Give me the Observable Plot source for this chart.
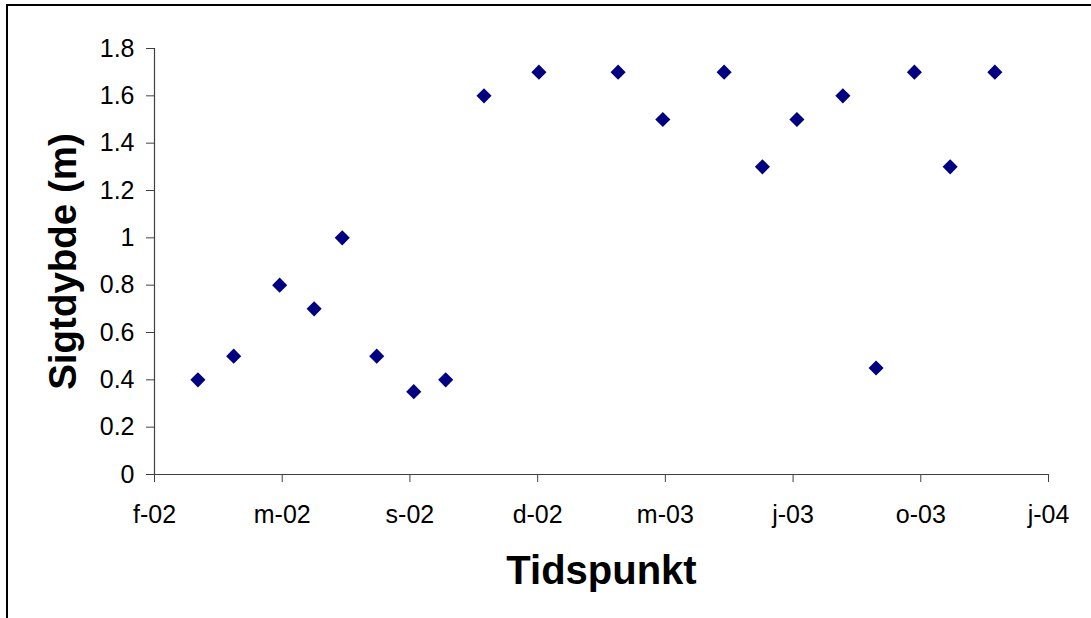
<!DOCTYPE html>
<html><head><meta charset="utf-8">
<script src="https://cdn.jsdelivr.net/npm/d3@7"></script>
<script src="https://cdn.jsdelivr.net/npm/@observablehq/plot@0.6"></script>
<style>
html,body{margin:0;padding:0;background:#fff;overflow:hidden;width:1091px;height:618px;}
#frame{position:absolute;left:6px;top:4px;width:1200px;height:800px;border:2px solid #000;box-sizing:border-box;}
#chart{position:absolute;left:0;top:0;}
</style></head><body><div id="frame"></div><div id="chart"></div>
<script>
// Observation dates and Secchi depth (m)
const dates = ["2002-03-19","2002-04-16","2002-05-22","2002-06-18","2002-07-10","2002-08-06","2002-09-04","2002-09-29","2002-10-29","2002-12-11",
               "2003-02-11","2003-03-18","2003-05-05","2003-06-04","2003-07-01","2003-08-06","2003-09-01","2003-10-01","2003-10-29","2003-12-03"];
const depths = [0.4,0.5,0.8,0.7,1.0,0.5,0.35,0.4,1.6,1.7,
                1.7,1.5,1.7,1.3,1.5,1.6,0.45,1.7,1.3,1.7];
const xTickDates = ["2002-02-13","2002-05-24","2002-09-01","2002-12-10","2003-03-20","2003-06-28","2003-10-06","2004-01-14"];
const xTickLabels = ["f-02","m-02","s-02","d-02","m-03","j-03","o-03","j-04"];
const yTicks = [0,0.2,0.4,0.6,0.8,1,1.2,1.4,1.6,1.8];
const yTickLabels = ["0","0.2","0.4","0.6","0.8","1","1.2","1.4","1.6","1.8"];
const xTitle = "Tidspunkt";
const yTitle = "Sigtdybde (m)";

const data = dates.map((d, i) => ({date: new Date(d), depth: depths[i]}));
const xTicks = xTickDates.map(d => new Date(d));
const xLabelMap = new Map(xTicks.map((d, i) => [+d, xTickLabels[i]]));
const yLabelMap = new Map(yTicks.map((v, i) => [v, yTickLabels[i]]));

const font = "'Liberation Sans', Arial, sans-serif";
const axisColor = "#404040";

const chart = Plot.plot({
  width: 1091,
  height: 618,
  marginLeft: 154,
  marginRight: 43,
  marginTop: 48,
  marginBottom: 144,
  style: {fontFamily: font, fontSize: "25px", color: "#000", background: "transparent", overflow: "visible"},
  x: {type: "utc", domain: [xTicks[0], xTicks[xTicks.length - 1]]},
  y: {domain: [0, 1.8]},
  marks: [
    Plot.axisX(xTicks, {tickSize: 8, tickPadding: 23, tickFormat: d => xLabelMap.get(+d), fontSize: 25, stroke: axisColor, fill: "#000", label: null}),
    Plot.axisY(yTicks, {tickSize: 8, tickPadding: 12, tickFormat: v => yLabelMap.get(v), fontSize: 25, stroke: axisColor, fill: "#000", label: null}),
    Plot.ruleY([0], {stroke: axisColor, strokeWidth: 1.2}),
    Plot.ruleX([xTicks[0]], {stroke: axisColor, strokeWidth: 1.2}),
    Plot.dot(data, {x: "date", y: "depth", symbol: "diamond2", r: 6.8, fill: "#000080", stroke: "none"}),
    Plot.text([xTitle], {frameAnchor: "bottom", dy: 97, text: d => d, fontSize: 40, fontWeight: "bold", fill: "#000", textAnchor: "middle", lineAnchor: "middle"}),
    Plot.text([yTitle], {frameAnchor: "left", dx: -91, text: d => d, fontSize: 38.5, fontWeight: "bold", fill: "#000", rotate: -90, textAnchor: "middle", lineAnchor: "middle"})
  ]
});
document.getElementById("chart").appendChild(chart);
</script>
</body></html>
